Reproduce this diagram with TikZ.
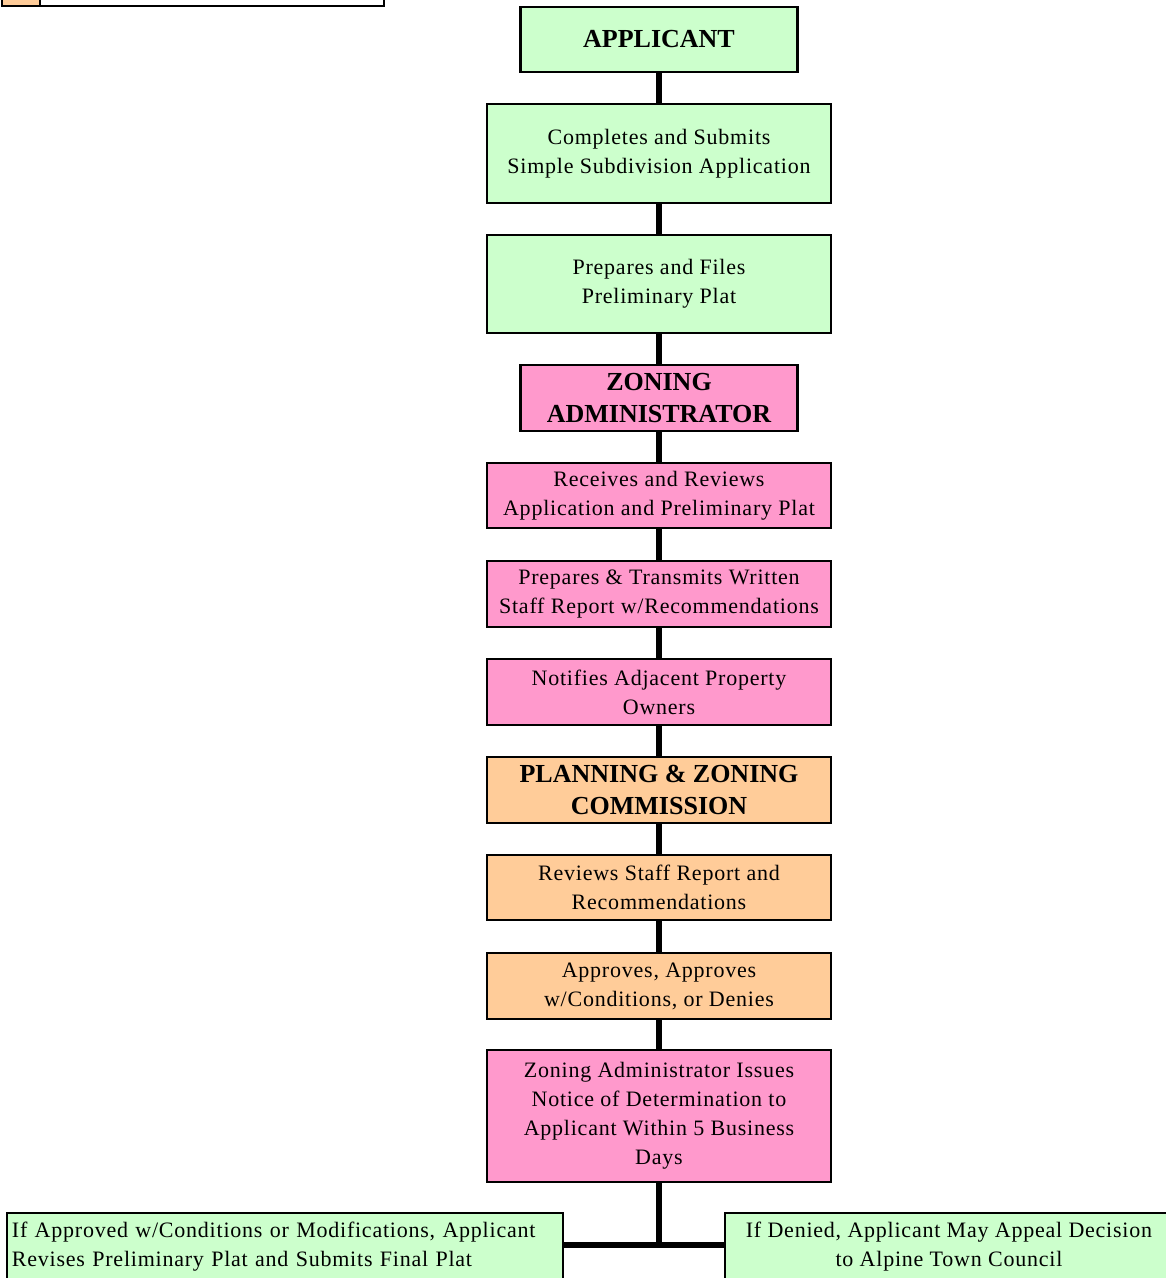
\documentclass[tikz,border=0pt]{standalone}
\usepackage{fontspec}
\setmainfont{Liberation Serif}[LetterSpace=3.5]
\newfontfamily\titlefont{Liberation Serif}[BoldFont={Liberation Serif Bold}]
\definecolor{gfill}{HTML}{CCFFCC}
\definecolor{pfill}{HTML}{FF99CC}
\definecolor{ofill}{HTML}{FFCC99}
\begin{document}
\begin{tikzpicture}[x=1pt,y=-1pt,
  box/.style={draw=black, line width=2.6pt, minimum width=344pt, align=center, inner sep=0pt,
    font=\fontsize{22}{29}\selectfont},
  ttl/.style={box, font=\titlefont\bfseries\fontsize{26}{32}\selectfont},
  gbox/.style={fill=gfill},
  pbox/.style={fill=pfill},
  obox/.style={fill=ofill},
  conn/.style={line width=5.5pt}]
\useasboundingbox (0,0) rectangle (1166,1278);
\clip (0,0) rectangle (1166,1278);
% legend (cut off at top)
\draw[line width=2.6pt, fill=white] (2,-40) rectangle (384,6);
\draw[line width=2.6pt, fill=ofill] (2,-40) rectangle (40,6);
% nodes
\node[ttl, gbox, minimum width=277pt, minimum height=65pt] (app) at (659,39.5) {APPLICANT};
\node[box, gbox, minimum height=99pt] (s1) at (659,153.5) {Completes and Submits\\Simple Subdivision Application};
\node[box, gbox, minimum height=98pt] (s2) at (659,284) {Prepares and Files\\Preliminary Plat};
\node[ttl, pbox, minimum width=277pt, minimum height=66pt] (za) at (659,398) {ZONING\\ADMINISTRATOR};
\node[box, pbox, minimum height=65pt] (r1) at (659,495.5) {Receives and Reviews\\Application and Preliminary Plat};
\node[box, pbox, minimum height=66pt] (r2) at (659,594) {Prepares \& Transmits Written\\Staff Report w/Recommendations};
\node[box, pbox, minimum height=66pt] (r3) at (659,692) {Notifies Adjacent Property\\Owners};
\node[ttl, obox, minimum height=66pt] (pz) at (659,790) {PLANNING \& ZONING\\COMMISSION};
\node[box, obox, minimum height=65pt] (r4) at (659,887.5) {Reviews Staff Report and\\Recommendations};
\node[box, obox, minimum height=66pt] (r5) at (659,986) {Approves, Approves\\w/Conditions, or Denies};
\node[box, pbox, minimum height=132pt] (r6) at (659,1116) {Zoning Administrator Issues\\Notice of Determination to\\Applicant Within 5 Business\\Days};
\node[box, gbox, minimum width=556pt, minimum height=68pt, text width=546pt, inner xsep=5pt, align=left] (bl) at (285,1247) {If Approved w/Conditions or Modifications, Applicant\\Revises Preliminary Plat and Submits Final Plat};
\node[box, gbox, minimum width=448pt, minimum height=68pt] (br) at (949,1247) {If Denied, Applicant May Appeal Decision\\to Alpine Town Council};
% connectors
\coordinate (j) at (659,1245);
\draw[conn] (app.south) -- (s1.north);
\draw[conn] (s1.south) -- (s2.north);
\draw[conn] (s2.south) -- (za.north);
\draw[conn] (za.south) -- (r1.north);
\draw[conn] (r1.south) -- (r2.north);
\draw[conn] (r2.south) -- (r3.north);
\draw[conn] (r3.south) -- (pz.north);
\draw[conn] (pz.south) -- (r4.north);
\draw[conn] (r4.south) -- (r5.north);
\draw[conn] (r5.south) -- (r6.north);
\draw[conn] (r6.south) -- (r6.south |- j);
\draw[conn] (bl.east |- j) -- (br.west |- j);
\end{tikzpicture}
\end{document}
